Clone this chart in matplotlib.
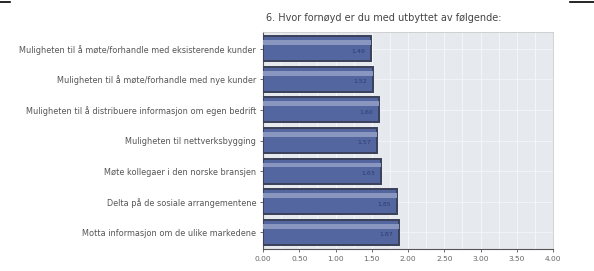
import matplotlib.pyplot as plt
from matplotlib.lines import Line2D
import numpy as np

# 6. Hvor fornøyd er du med utbyttet av følgende
labels = [
    "Muligheten til å møte/forhandle med eksisterende kunder",
    "Muligheten til å møte/forhandle med nye kunder",
    "Muligheten til å distribuere informasjon om egen bedrift",
    "Muligheten til nettverksbygging",
    "Møte kollegaer i den norske bransjen",
    "Delta på de sosiale arrangementene",
    "Motta informasjon om de ulike markedene",
]
values = [1.49, 1.52, 1.60, 1.57, 1.63, 1.85, 1.87]
xticks = [0.0, 0.5, 1.0, 1.5, 2.0, 2.5, 3.0, 3.5, 4.0]


def makeFig():
    fig = plt.figure(figsize=(5.94, 2.71), dpi=100)
    ax = fig.add_axes([263 / 594, 1 - 249 / 271, 290 / 594, 217 / 271])
    ax.set_facecolor("#e6e9ee")

    y = np.arange(len(values))
    # 枠線つきの棒、上側に明るい帯
    ax.barh(y, values, height=0.82, color="#5466a0", edgecolor="#3a4058",
            linewidth=1.4, zorder=3)
    ax.barh(y - 0.2, values, height=0.16, color="#8896c0", linewidth=0,
            zorder=4)
    for i, v in enumerate(values):
        ax.text(v - 0.08, i + 0.08, "%.2f" % v, ha="right", va="center",
                fontsize=4.5, color="#2f3c70", zorder=5)

    ax.set_xlim(0, 4)
    ax.set_ylim(len(values) - 0.45, -0.55)
    ax.set_xticks(xticks)
    ax.set_xticklabels(["%.2f" % t for t in xticks], fontsize=5.4,
                       color="#666666")
    ax.set_yticks(y)
    ax.set_yticklabels(labels, fontsize=5.9, color="#555555")
    ax.set_xticks(np.arange(0.25, 4, 0.5), minor=True)
    ax.tick_params(axis="both", length=2, width=0.6, color="#555555", pad=3)
    ax.tick_params(axis="x", which="minor", length=0)
    ax.grid(True, which="both", axis="x", color="#f4f5f8", linewidth=0.8,
            zorder=0)
    ax.grid(True, axis="y", color="#f4f5f8", linewidth=0.6, zorder=0)
    for s in ["top", "right"]:
        ax.spines[s].set_color("#cccccc")
        ax.spines[s].set_linewidth(0.6)
    ax.spines["left"].set_color("#555555")
    ax.spines["bottom"].set_color("#555555")
    ax.spines["left"].set_linewidth(0.8)
    ax.spines["bottom"].set_linewidth(0.8)

    fig.text(266 / 594, 1 - 18 / 271,
             "6. Hvor fornøyd er du med utbyttet av følgende:",
             fontsize=7, color="#444444", va="center", ha="left")

    # 上端の黒い線
    fig.add_artist(Line2D([0, 10 / 594], [1 - 1.5 / 271] * 2, color="black",
                          linewidth=1.2))
    fig.add_artist(Line2D([570 / 594, 1], [1 - 1.5 / 271] * 2, color="black",
                          linewidth=1.2))

    fig.savefig("out.png", dpi=100)


if __name__ == '__main__':
    makeFig()
